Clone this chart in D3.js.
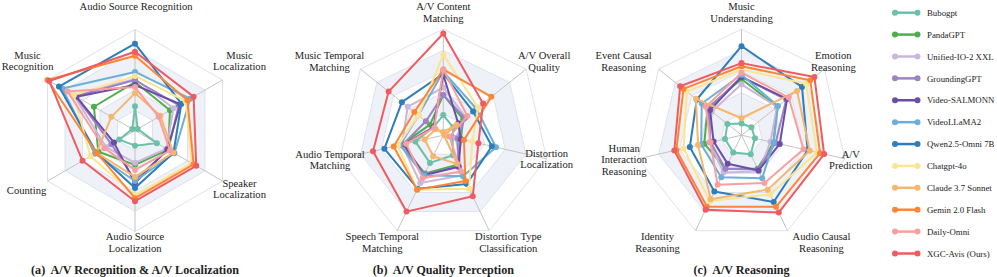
<!DOCTYPE html>
<html>
<head>
<meta charset="utf-8">
<title>Radar charts</title>
<script src="https://d3js.org/d3.v7.min.js"></script>
<style>
  html, body { margin: 0; padding: 0; background: #fff; }
  text { font-family: "Liberation Serif", "DejaVu Serif", serif; fill: #222; }
  .ring { fill: none; stroke: #dde2ee; stroke-width: 1; }
  .spoke { stroke: #c4c4c4; stroke-width: 1; }
  .series { fill: none; stroke-width: 2; stroke-linejoin: round; }
</style>
</head>
<body>
<script>
// models, in legend / drawing order
var models = ["Bubogpt", "PandaGPT", "Unified-IO-2 XXL", "GroundingGPT", "Video-SALMONN",
  "VideoLLaMA2", "Qwen2.5-Omni 7B", "Chatgpt-4o", "Claude 3.7 Sonnet", "Gemin 2.0 Flash",
  "Daily-Omni", "XGC-Avis (Ours)"];
var colors = ["#6cbfa8", "#4fae4c", "#cbb6dc", "#9c82c6", "#6a4ea6", "#6cafd7",
  "#2f7dbb", "#fde490", "#f6b66b", "#fd8636", "#fa9f9f", "#ef5b60"];

var ringLevels = [20, 40, 60, 80, 100];

// (a) A/V Recognition & A/V Localization
var axesA = ["Audio Source Recognition", "Music\nLocalization", "Speaker\nLocalization",
  "Audio Source\nLocalization", "Counting", "Music\nRecognition"];
var scoresA = [
  [24, 3, 25, 15, 18, 3],
  [48, 40, 38, 34, 42, 47],
  [51, 44, 36, 32, 33, 70],
  [50, 50, 38, 49, 27, 68],
  [45, 52, 37, 52, 24, 67],
  [58, 63, 45, 50, 46, 83],
  [86, 53, 44, 57, 44, 87],
  [54, 58, 65, 64, 51, 70],
  [37, 29, 44, 46, 44, 27],
  [74, 60, 67, 67, 44, 100],
  [43, 27, 40, 39, 35, 77],
  [78, 67, 70, 70, 60, 98]
];

// (b) A/V Quality Perception
var axesB = ["A/V Content\nMatching", "A/V Overall\nQuality", "Distortion\nLocalization",
  "Distortion Type\nClassification", "Speech Temporal\nMatching", "Audio Temporal\nMatching",
  "Music Temporal\nMatching"];
var scoresB = [
  [19, 12, 9, 21, 29, 27, 12],
  [38, 24, 17, 31, 40, 41, 16],
  [45, 27, 12, 42, 50, 40, 43],
  [38, 26, 14, 33, 41, 39, 21],
  [57, 18, 17, 33, 42, 38, 12],
  [60, 40, 51, 43, 42, 42, 30],
  [58, 36, 47, 51, 56, 57, 50],
  [76, 42, 28, 56, 57, 44, 30],
  [3, 16, 1, 30, 22, 18, 9],
  [62, 58, 20, 48, 57, 48, 35],
  [62, 29, 6, 38, 45, 36, 11],
  [96, 48, 34, 64, 80, 68, 66]
];

// (c) A/V Reasoning
var axesC = ["Music\nUnderstanding", "Emotion\nReasoning", "A/V\nPrediction",
  "Audio Causal\nReasoning", "Identity\nReasoning", "Human\nInteraction\nReasoning",
  "Event Causal\nReasoning"];
var scoresC = [
  [11, 12, 13, 20, 18, 16, 17],
  [53, 43, 31, 35, 35, 36, 41],
  [48, 43, 28, 38, 39, 31, 36],
  [55, 54, 33, 36, 35, 30, 40],
  [55, 55, 37, 37, 30, 27, 38],
  [57, 44, 31, 45, 44, 39, 48],
  [84, 73, 64, 70, 59, 50, 54],
  [62, 78, 73, 62, 69, 56, 66],
  [16, 67, 66, 57, 67, 42, 55],
  [65, 83, 76, 75, 75, 63, 70],
  [59, 57, 60, 50, 52, 30, 43],
  [68, 88, 80, 81, 78, 65, 74]
];

var captions = ["(a)  A/V Recognition & A/V Localization", "(b)  A/V Quality Perception", "(c)  A/V Reasoning"];

var width = 997, height = 277;
var svg = d3.select("body").append("svg").attr("width", width).attr("height", height);

// layout: centre, radius, and where each axis label sits relative to its spoke end
var charts = [
  {axes: axesA, scores: scoresA, cx: 135, cy: 130.5, R: 101,
   labelOff: [[1, -23], [17, -19], [17, 8], [0, 11], [-21, 9], [-20, -19]]},
  {axes: axesB, scores: scoresB, cx: 443.3, cy: 135.2, R: 106,
   labelOff: [[0, -17], [18, -8], [0, 0], [19, 12], [-15, 12], [-10, 1], [-31, -8]]},
  {axes: axesC, scores: scoresC, cx: 741.5, cy: 135.2, R: 106,
   labelOff: [[0, -17], [9, -8], [6, 1], [34, 12], [-38, 12], [-14, 1], [-35, -8]]}
];

charts.forEach(function(c, ci) {
  var n = c.axes.length;
  var r = d3.scaleLinear().domain([0, 100]).range([0, c.R]);
  var angle = function(i) { return i * 2 * Math.PI / n; };
  var g = svg.append("g").attr("transform", "translate(" + c.cx + "," + c.cy + ")");

  var ringLine = d3.lineRadial()
    .angle(function(d, i) { return angle(i); })
    .radius(function(d) { return r(d); })
    .curve(d3.curveLinearClosed);

  // alternating bands
  ringLevels.forEach(function(lv, li) {
    if (li % 2 == 1) {
      var outer = d3.range(n).map(function() { return lv; });
      var inner = d3.range(n).map(function() { return ringLevels[li - 1]; });
      g.append("path")
        .attr("d", ringLine(outer) + ringLine(inner.reverse()))
        .attr("fill", "#eef1f8")
        .attr("fill-rule", "evenodd");
    }
  });
  ringLevels.forEach(function(lv) {
    g.append("path").attr("class", "ring")
      .attr("d", ringLine(d3.range(n).map(function() { return lv; })));
  });

  // spokes
  c.axes.forEach(function(a, i) {
    var p = d3.pointRadial(angle(i), r(100));
    g.append("line").attr("class", "spoke")
      .attr("x1", 0).attr("y1", 0).attr("x2", p[0]).attr("y2", p[1]);
  });

  // axis labels
  c.axes.forEach(function(a, i) {
    var p = d3.pointRadial(angle(i), r(100));
    var lx = p[0] + c.labelOff[i][0], lyc = p[1] + c.labelOff[i][1];
    var lines = a.split("\n");
    var lh = 11.7;
    var t = g.append("text")
      .attr("text-anchor", "middle")
      .attr("font-size", 10.6)
      .attr("x", lx)
      .attr("y", lyc - (lines.length - 1) * lh / 2 + 3.6);
    lines.forEach(function(l, k) {
      t.append("tspan").attr("x", lx).attr("dy", k == 0 ? 0 : lh).text(l);
    });
  });

  // series
  c.scores.forEach(function(vals, si) {
    var sg = g.append("g");
    sg.append("path").attr("class", "series")
      .attr("stroke", colors[si])
      .attr("d", ringLine(vals));
    sg.selectAll("circle").data(vals).enter().append("circle")
      .attr("cx", function(d, i) { return d3.pointRadial(angle(i), r(d))[0]; })
      .attr("cy", function(d, i) { return d3.pointRadial(angle(i), r(d))[1]; })
      .attr("r", 3)
      .attr("fill", colors[si]);
  });

  svg.append("text")
    .attr("x", c.cx).attr("y", 274)
    .attr("text-anchor", "middle")
    .attr("font-size", 12.1)
    .attr("font-weight", "bold")
    .style("white-space", "pre")
    .text(captions[ci]);
});

// legend
var ly = d3.scaleLinear().domain([0, models.length - 1]).range([12.7, 253.5]);
var lg = svg.append("g");
models.forEach(function(m, i) {
  var y = ly(i);
  lg.append("line").attr("x1", 895).attr("x2", 917.5).attr("y1", y).attr("y2", y)
    .attr("stroke", colors[i]).attr("stroke-width", 2.5);
  [895, 917.5].forEach(function(x) {
    lg.append("circle").attr("cx", x).attr("cy", y).attr("r", 3).attr("fill", colors[i]);
  });
  lg.append("text").attr("x", 927).attr("y", y + 3.2).attr("font-size", 8.8).text(m);
});
</script>
</body>
</html>
